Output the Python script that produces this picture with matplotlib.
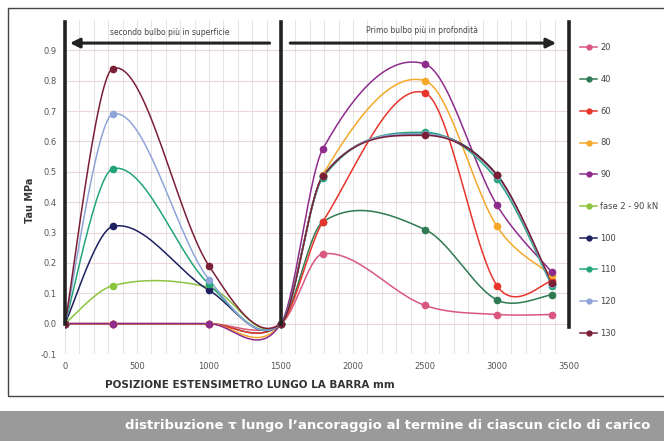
import numpy as np
import matplotlib.pyplot as plt
from matplotlib.patches import Rectangle
from matplotlib.lines import Line2D

# strain gauge positions along the bar [mm]
pos = [0, 330, 1000, 1500, 1790, 2500, 3000, 3380]

labels = ["20", "40", "60", "80", "90", "fase 2 - 90 kN", "100", "110", "120", "130"]
tau_20 = [0, 0, 0, 0, 0.23, 0.06, 0.03, 0.03]
tau_40 = [0, 0, 0, 0, 0.335, 0.31, 0.078, 0.095]
tau_60 = [0, 0, 0, 0, 0.335, 0.76, 0.125, 0.14]
tau_80 = [0, 0, 0, 0, 0.49, 0.80, 0.32, 0.16]
tau_90 = [0, 0, 0, 0, 0.575, 0.855, 0.39, 0.17]
tau_f2 = [0, 0.125, 0.12, 0, 0.485, 0.625, 0.49, 0.13]
tau_100 = [0, 0.32, 0.11, 0, 0.485, 0.625, 0.49, 0.13]
tau_110 = [0, 0.51, 0.13, 0, 0.48, 0.63, 0.475, 0.125]
tau_120 = [0, 0.69, 0.145, 0, 0.485, 0.625, 0.485, 0.13]
tau_130 = [0, 0.84, 0.19, 0, 0.485, 0.62, 0.49, 0.135]
series = [tau_20, tau_40, tau_60, tau_80, tau_90, tau_f2, tau_100, tau_110, tau_120, tau_130]
colors = ["#d9577f", "#2f7a52", "#e8352c", "#f5a82a", "#8e2c8e",
          "#8cc43f", "#1e2160", "#22a679", "#8fa4d8", "#7a1f36"]


def smooth(xs, ys, n=30):
    # excel-like smoothed line: bezier segments with catmull-rom control points
    p = np.array([(x, y) for x, y in zip(xs, ys) if not np.isnan(y)], dtype=float)
    out = [p[0]]
    for i in range(len(p) - 1):
        p0 = p[i - 1] if i > 0 else p[i]
        p1, p2 = p[i], p[i + 1]
        p3 = p[i + 2] if i + 2 < len(p) else p[i + 1]
        d = p2[0] - p1[0]
        da = p1[0] - p0[0] if i > 0 else d
        db = p3[0] - p2[0] if i + 2 < len(p) else d
        c1 = p1 + (p2 - p0) * d / (da + d) / 3
        c2 = p2 - (p3 - p1) * d / (d + db) / 3
        t = np.linspace(0, 1, n)[1:, None]
        seg = (1 - t) ** 3 * p1 + 3 * (1 - t) ** 2 * t * c1 + 3 * (1 - t) * t ** 2 * c2 + t ** 3 * p2
        out.extend(seg)
    out = np.array(out)
    return out[:, 0], out[:, 1]


fig = plt.figure(figsize=(6.64, 4.41), dpi=100)
ax = fig.add_axes([65 / 664, 1 - 354 / 441, 504 / 664, 334 / 441])

for ys, c, lab in zip(series, colors, labels):
    sx, sy = smooth(pos, ys)
    ax.plot(sx, sy, color=c, lw=1.1, zorder=3)
    ax.plot(pos, ys, 'o', color=c, ms=4.5, zorder=4)

ax.set_xlim(0, 3500)
ax.set_ylim(-0.1, 1.0)
ax.set_xticks(np.arange(0, 3501, 500))
ax.set_yticks(np.round(np.arange(-0.1, 0.91, 0.1), 1))
ax.set_yticklabels([f"{v:.1f}" for v in np.arange(-0.1, 0.91, 0.1)])
ax.set_xticks(np.arange(0, 3501, 100), minor=True)
ax.grid(True, which='both', axis='x', color='#e4e4e4', lw=0.7)
ax.grid(True, which='major', axis='y', color='#ead9dc', lw=0.8)
ax.set_axisbelow(True)
for s in ax.spines.values():
    s.set_visible(False)
ax.tick_params(which='both', length=0, labelsize=6, colors='#555555', pad=6)

# thick separators and direction arrows
for xv, y0 in [(0, 0), (1500, 0), (3500, -0.01)]:
    ax.plot([xv, xv], [y0, 0.995], color='#222222', lw=2.6, clip_on=False, zorder=5)
ax.annotate("", xy=(15, 0.924), xytext=(1440, 0.924),
            arrowprops=dict(arrowstyle='-|>', color='#222222', lw=2.2, mutation_scale=14))
ax.annotate("", xy=(3430, 0.924), xytext=(1545, 0.924),
            arrowprops=dict(arrowstyle='-|>', color='#222222', lw=2.2, mutation_scale=14))
ax.text(730, 0.958, "secondo bulbo più in superficie", fontsize=5.5, color='#444444', ha='center', va='center')
ax.text(2480, 0.965, "Primo bulbo più in profondità", fontsize=5.5, color='#444444', ha='center', va='center')

fig.text(30 / 664, 1 - 200 / 441, "Tau MPa", rotation=90, fontsize=7, fontweight='bold',
         color='#333333', ha='center', va='center')
fig.text(250 / 664, 1 - 385 / 441, "POSIZIONE ESTENSIMETRO LUNGO LA BARRA mm", fontsize=7.5,
         fontweight='bold', color='#333333', ha='center', va='center')

handles = [Line2D([], [], color=c, lw=1.1, marker='o', ms=3.5) for c in colors]
fig.legend(handles, labels, loc='upper left', bbox_to_anchor=(576 / 664, 1 - 39 / 441),
           frameon=False, fontsize=6, labelcolor='#444444', handlelength=2.0,
           handletextpad=0.4, labelspacing=2.73, borderpad=0)

# frame and caption banner
fig.patches.append(Rectangle((8 / 664, 1 - 396 / 441), 660 / 664, 388 / 441, transform=fig.transFigure,
                             fill=False, edgecolor='#444444', lw=1.0))
fig.patches.append(Rectangle((0, 0), 1, 30 / 441, transform=fig.transFigure,
                             facecolor='#9a9a9a', edgecolor='none'))
fig.text(650 / 664, 15 / 441, "distribuzione τ lungo l’ancoraggio al termine di ciascun ciclo di carico",
         fontweight='bold', fontsize=9.5, color='white', ha='right', va='center')

fig.savefig("out.png", dpi=100)
